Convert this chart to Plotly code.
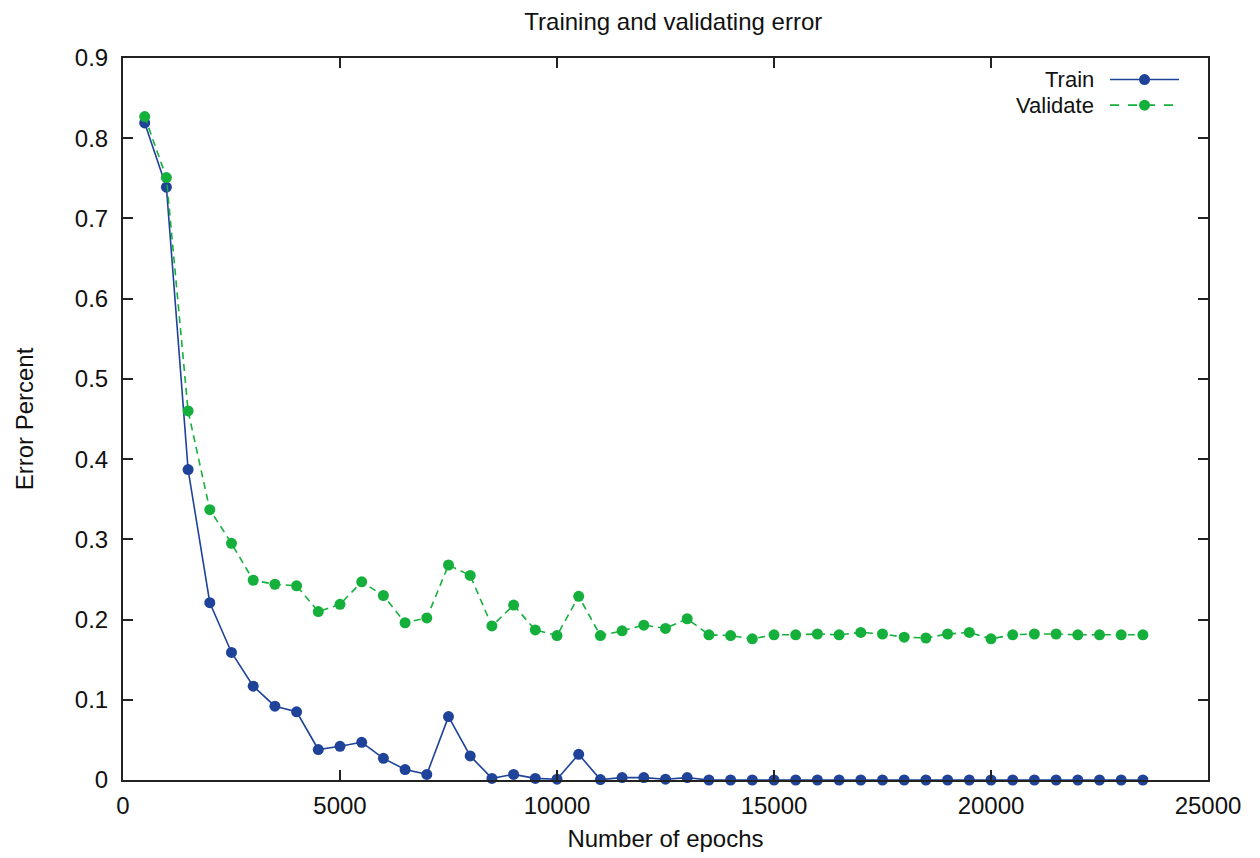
import plotly.graph_objects as go

epochs = [500, 1000, 1500, 2000, 2500, 3000, 3500, 4000, 4500, 5000,
          5500, 6000, 6500, 7000, 7500, 8000, 8500, 9000, 9500, 10000,
          10500, 11000, 11500, 12000, 12500, 13000, 13500, 14000, 14500, 15000,
          15500, 16000, 16500, 17000, 17500, 18000, 18500, 19000, 19500, 20000,
          20500, 21000, 21500, 22000, 22500, 23000, 23500]

train = [0.819, 0.739, 0.387, 0.221, 0.159, 0.117, 0.092, 0.085, 0.038, 0.042,
         0.047, 0.027, 0.013, 0.007, 0.079, 0.030, 0.002, 0.007, 0.002, 0.001,
         0.032, 0.0005, 0.003, 0.003, 0.001, 0.003, 0.0, 0.0, 0.0, 0.0,
         0.0, 0.0, 0.0, 0.0, 0.0, 0.0, 0.0, 0.0, 0.0, 0.0,
         0.0, 0.0, 0.0, 0.0, 0.0, 0.0, 0.0]

validate = [0.827, 0.751, 0.460, 0.337, 0.295, 0.249, 0.244, 0.242, 0.210, 0.219,
            0.247, 0.230, 0.196, 0.202, 0.268, 0.255, 0.192, 0.218, 0.187, 0.180,
            0.229, 0.180, 0.186, 0.193, 0.189, 0.201, 0.181, 0.180, 0.176, 0.181,
            0.181, 0.182, 0.181, 0.184, 0.182, 0.178, 0.177, 0.182, 0.184, 0.176,
            0.181, 0.182, 0.182, 0.181, 0.181, 0.181, 0.181]

series_names = ["Train", "Validate"]
BLUE = "#1e4399"
GREEN = "#15b03b"
FONT = "Liberation Sans, Arial, sans-serif"
TXT = "#111111"
FS = 24
LEG_FS = 22

fig = go.Figure()
fig.add_trace(go.Scatter(x=epochs, y=train, name=series_names[0], mode="lines+markers",
                         line=dict(color=BLUE, width=1.6),
                         marker=dict(color=BLUE, size=11), showlegend=False,
                         cliponaxis=False))
fig.add_trace(go.Scatter(x=epochs, y=validate, name=series_names[1], mode="lines+markers",
                         line=dict(color=GREEN, width=1.6, dash="7px,5px"),
                         marker=dict(color=GREEN, size=11), showlegend=False))

axis_common = dict(showgrid=False, zeroline=False, showline=True, linecolor="#222222",
                   linewidth=2, mirror="allticks", ticks="inside", ticklen=10,
                   tickwidth=1.5, tickcolor="#222222",
                   tickfont=dict(family=FONT, size=FS, color=TXT))

fig.update_xaxes(range=[0, 25000], dtick=5000, tick0=0, tickformat="d",
                 ticklabelstandoff=3,
                 title=dict(text="Number of epochs", font=dict(family=FONT, size=FS, color=TXT),
                            standoff=12),
                 **axis_common)
fig.update_yaxes(range=[0, 0.9], dtick=0.1, tick0=0, ticklabelstandoff=8,
                 title=dict(text="Error Percent", font=dict(family=FONT, size=FS, color=TXT),
                            standoff=34),
                 **axis_common)

# gnuplot-style key: text on the left, line sample on the right
legend_y = [0.9702, 0.9347]
legend_styles = [dict(color=BLUE, width=1.6), dict(color=GREEN, width=1.6, dash="dash")]
legend_colors = [BLUE, GREEN]
for name, ly, ls, lc in zip(series_names, legend_y, legend_styles, legend_colors):
    fig.add_annotation(xref="paper", yref="paper", x=0.8959, y=ly, text=name,
                       showarrow=False, xanchor="right", yanchor="middle",
                       borderpad=0,
                       font=dict(family=FONT, size=LEG_FS, color=TXT))
    fig.add_shape(type="line", xref="paper", yref="paper", x0=0.9097, x1=0.9733,
                  y0=ly, y1=ly, line=ls)
    fig.add_shape(type="circle", xref="paper", yref="paper", xsizemode="pixel",
                  ysizemode="pixel", xanchor=0.9415, yanchor=ly, x0=-5.5, x1=5.5,
                  y0=-5.5, y1=5.5, fillcolor=lc, line=dict(color=lc, width=0))

# the page body adds an 8px offset; margins compensate so the plot area lands at
# x 123..1208, y 58..780 on screen
fig.update_layout(
    width=1260, height=858,
    margin=dict(l=115, r=60, t=50, b=86, autoexpand=False),
    paper_bgcolor="white", plot_bgcolor="white",
    title=dict(text="Training and validating error", x=0.528, xanchor="center",
               y=1 - 14 / 858, yanchor="middle", yref="container",
               font=dict(family=FONT, size=FS, color=TXT)),
    showlegend=False,
)

fig.write_html("out.html")
